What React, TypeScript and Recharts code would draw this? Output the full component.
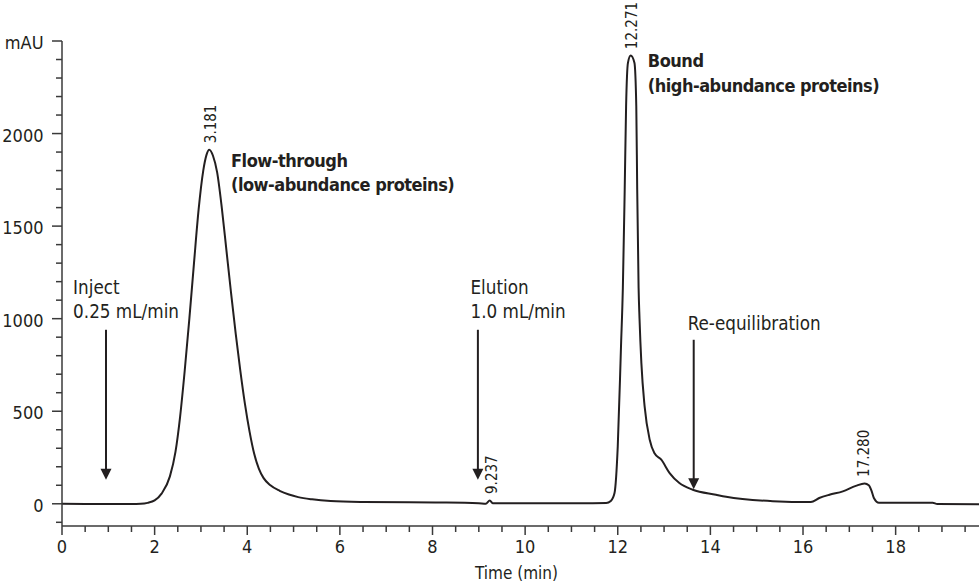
import React from 'react';
import { LineChart, Line, XAxis, YAxis, ReferenceLine, ReferenceDot } from 'recharts';

const FONT = "'Liberation Sans Narrow', 'Arial Narrow', 'DejaVu Sans Condensed', 'Roboto Condensed', sans-serif";
const INK = '#231f20';
const AXIS = '#3a3a3a';

// Retention time (min)
const times = [
  0, 0.5, 1.0, 1.5, 1.7, 1.85, 2.0, 2.15, 2.33, 2.45, 2.55, 2.65, 2.75, 2.85, 2.95, 3.05, 3.12, 3.18,
  3.26, 3.35, 3.45, 3.55, 3.65, 3.75, 3.85, 3.95, 4.05, 4.15, 4.25, 4.35, 4.5, 4.7, 4.9, 5.1, 5.4,
  5.8, 6.5, 7.5, 8.3, 9.0, 9.15, 9.237, 9.3, 10, 11, 11.75, 11.85, 11.93, 12.0, 12.07, 12.11, 12.15,
  12.18, 12.22, 12.28, 12.36, 12.4, 12.42, 12.45, 12.47, 12.51, 12.58, 12.69, 12.79, 12.94, 13.12,
  13.33, 13.62, 14.12, 14.34, 15.35, 16.17, 16.35, 16.57, 16.86, 17.14, 17.33, 17.42, 17.48, 17.53,
  17.64, 18.0, 18.8, 18.9, 19.8,
];
// Absorbance (mAU)
const absorbance = [
  0, -1, -1, -1, 0, 5, 18, 55, 148, 280, 470, 720, 1000, 1300, 1590, 1800, 1885, 1913,
  1880, 1790, 1600, 1370, 1140, 920, 720, 540, 390, 270, 190, 140, 100, 70, 50, 36, 24,
  15, 10, 8, 7, 3, 0, 18, 3, 3, 3, 4, 15, 58, 310, 850, 1166, 1697,
  2147, 2382, 2421, 2382, 2147, 1697, 1166, 1000, 760, 526, 346, 274, 238, 166,
  112, 76, 49, 38, 14, 9, 31, 49, 67, 97, 110, 100, 70, 31,
  5, 5, 6, -1, -2,
];

const xTicks = [
  0, 0.5, 1, 1.5, 2, 2.5, 3, 3.5, 4, 4.5, 5, 5.5, 6, 6.5, 7, 7.5, 8, 8.5, 9, 9.5,
  10, 10.5, 11, 11.5, 12, 12.5, 13, 13.5, 14, 14.5, 15, 15.5, 16, 16.5, 17, 17.5, 18, 18.5, 19, 19.5,
];
const xLabelled = [0, 2, 4, 6, 8, 10, 12, 14, 16, 18];
const yTicks = [
  -100, 0, 100, 200, 300, 400, 500, 600, 700, 800, 900, 1000, 1100, 1200, 1300, 1400,
  1500, 1600, 1700, 1800, 1900, 2000, 2100, 2200, 2300, 2400, 2500,
];
const yLabelValues = [0, 500, 1000, 1500, 2000, 2500];
const yLabelTexts = ['0', '500', '1000', '1500', '2000', 'mAU'];

// Peak retention-time labels
const peakTimes = [3.181, 9.237, 12.271, 17.28];
const peakHeights = [1913, 18, 2421, 110];
const peakTexts = ['3.181', '9.237', '12.271', '17.280'];

// Event arrows (time, top, tip in mAU)
const arrowTimes = [0.95, 8.98, 13.64];
const arrowTops = [940, 940, 886];
const arrowTips = [130, 130, 78];

// Annotation text anchors (data coordinates of first baseline, left aligned)
const noteTimes = [0.24, 8.82, 13.51, 3.65, 12.65];
const noteLevels = [1135, 1135, 940, 1822, 2357];
const noteLines = [
  ['Inject', '0.25 mL/min'],
  ['Elution', '1.0 mL/min'],
  ['Re-equilibration'],
  ['Flow-through', '(low-abundance proteins)'],
  ['Bound', '(high-abundance proteins)'],
];
const noteBold = [false, false, false, true, true];

const data = times.map((t, i) => ({ t, v: absorbance[i] }));

const XTick = (props: any) => {
  const { x, y, payload } = props;
  const val = payload.value;
  const major = xLabelled.includes(val);
  return (
    <g>
      <line x1={x} y1={y} x2={x} y2={y + (major ? 9 : 6)} stroke={AXIS} strokeWidth={1.5} />
      {major && (
        <text x={x} y={y + 20} textAnchor="middle" dominantBaseline="central" fill={INK}
          fontFamily={FONT} fontSize={18}>{String(val)}</text>
      )}
    </g>
  );
};

const YTick = (props: any) => {
  const { x, y, payload } = props;
  const val = payload.value;
  const idx = yLabelValues.indexOf(val);
  const major = idx >= 0;
  return (
    <g>
      <line x1={x - (major ? 10 : 6)} y1={y} x2={x} y2={y} stroke={AXIS} strokeWidth={1.5} />
      {major && (
        <text x={x - 18.5} y={y + 1.5} textAnchor="end" dominantBaseline="central" fill={INK}
          fontFamily={FONT} fontSize={18}>{yLabelTexts[idx]}</text>
      )}
    </g>
  );
};

const arrowShape = (p: any) => {
  const { x1, y1, x2, y2 } = p;
  return (
    <g>
      <line x1={x1} y1={y1} x2={x2} y2={y2 - 9} stroke={INK} strokeWidth={2} />
      <polygon points={`${x2 - 5.5},${y2 - 11} ${x2 + 5.5},${y2 - 11} ${x2},${y2}`} fill={INK} />
    </g>
  );
};

const makeNote = (lines: string[], bold: boolean) => (p: any) => {
  const { cx, cy } = p;
  return (
    <text x={cx} y={cy} fill={INK} fontFamily={FONT} fontSize={bold ? 18 : 18.7}
      fontWeight={bold ? 700 : 400} letterSpacing={bold ? -0.5 : 0}>
      {lines.map((l, i) => (
        <tspan key={i} x={cx} dy={i === 0 ? 0 : 24.5}>{l}</tspan>
      ))}
    </text>
  );
};

const makePeakLabel = (text: string) => (p: any) => {
  const { cx, cy } = p;
  const px = cx + 2;
  const py = cy - 6.5;
  return (
    <text x={px} y={py} transform={`rotate(-90 ${px} ${py})`} textAnchor="start"
      dominantBaseline="central" fill={INK} fontFamily={FONT} fontSize={15}>{text}</text>
  );
};

const TimeLabel = (props: any) => {
  const vb = props.viewBox || { x: 62, y: 526, width: 917, height: 50 };
  return (
    <text x={vb.x + vb.width / 2 - 4} y={vb.y + 53} textAnchor="middle" fill={INK}
      fontFamily={FONT} fontSize={17}>Time (min)</text>
  );
};

export default function App() {
  return (
    <div style={{ position: 'absolute', left: 0, top: 0, width: 979, height: 586, background: '#fff' }}>
      <LineChart width={979} height={586} data={data}
        margin={{ top: 41, right: 0, bottom: 10, left: 0 }} style={{ fontFamily: FONT }}>
        <XAxis type="number" dataKey="t" domain={[0, 19.8]} ticks={xTicks} interval={0}
          tickSize={0} tickMargin={0} tick={XTick} tickLine={false} height={50}
          axisLine={{ stroke: AXIS, strokeWidth: 1.5 }} allowDataOverflow label={TimeLabel} />
        <YAxis type="number" domain={[-120, 2500]} ticks={yTicks} interval={0} width={62}
          tickSize={0} tickMargin={0} tick={YTick} tickLine={false}
          axisLine={{ stroke: AXIS, strokeWidth: 1.5 }} allowDataOverflow />
        <Line type="monotone" dataKey="v" stroke={INK} strokeWidth={2} dot={false}
          isAnimationActive={false} />
        {arrowTimes.map((t, i) => (
          <ReferenceLine key={'a' + i} segment={[{ x: t, y: arrowTops[i] }, { x: t, y: arrowTips[i] }]}
            shape={arrowShape} ifOverflow="visible" />
        ))}
        {noteTimes.map((t, i) => (
          <ReferenceDot key={'n' + i} x={t} y={noteLevels[i]} r={0} ifOverflow="visible"
            shape={makeNote(noteLines[i], noteBold[i])} />
        ))}
        {peakTimes.map((t, i) => (
          <ReferenceDot key={'p' + i} x={t} y={peakHeights[i]} r={0} ifOverflow="visible"
            shape={makePeakLabel(peakTexts[i])} />
        ))}
      </LineChart>
    </div>
  );
}
